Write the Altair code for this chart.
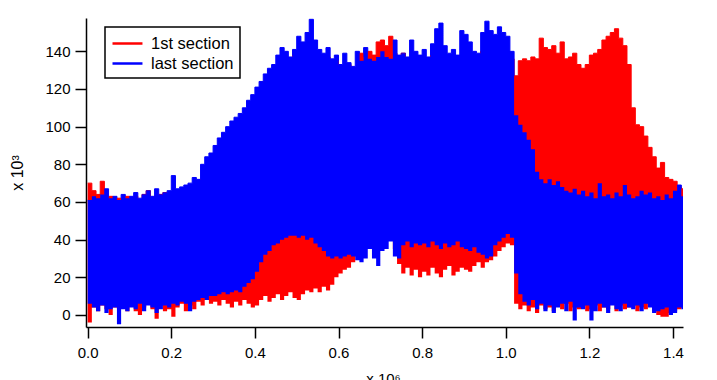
import altair as alt
import pandas as pd

# sample positions (x 10^6), one every 0.01
x_pos = [round(i * 0.01, 2) for i in range(144)]

# last section (blue): upper / lower envelope, x 10^3
blue_hi = [61, 63, 62, 64, 67, 62, 63, 61, 64, 62,
           63, 65, 62, 64, 66, 63, 67, 64, 65, 66,
           74, 67, 68, 69, 70, 73, 72, 80, 84, 86,
           90, 94, 97, 100, 103, 105, 107, 110, 114, 117,
           121, 124, 128, 131, 133, 138, 142, 140, 137, 141,
           148, 145, 150, 157, 146, 141, 139, 142, 136, 138,
           133, 139, 134, 132, 140, 135, 142, 136, 135, 137,
           140, 137, 136, 146, 138, 139, 137, 146, 140, 138,
           141, 137, 144, 152, 155, 143, 139, 141, 138, 151,
           149, 145, 140, 139, 150, 156, 151, 149, 153, 150,
           148, 140, 106, 101, 97, 93, 88, 76, 72, 70,
           72, 69, 71, 68, 66, 65, 67, 64, 66, 63,
           65, 62, 70, 63, 64, 62, 65, 63, 69, 64,
           62, 63, 66, 64, 65, 62, 63, 61, 64, 62,
           66, 69, 63, 64]
blue_lo = [6, 4, 2, 5, 1, 3, 4, -5, 3, 2,
           4, 3, 6, 2, 5, 4, 1, 3, 5, 4,
           6, 5, 7, 6, 2, 7, 8, 9, 8, 10,
           10, 11, 12, 11, 12, 13, 12, 15, 17, 19,
           23, 28, 32, 34, 37, 38, 40, 41, 42, 42,
           41, 42, 40, 41, 38, 36, 34, 31, 30, 31,
           30, 31, 32, 31, 29, 28, 30, 35, 30, 26,
           34, 35, 39, 31, 30, 37, 39, 36, 38, 37,
           38, 36, 39, 37, 35, 38, 36, 37, 39, 36,
           35, 34, 36, 33, 32, 30, 31, 37, 39, 41,
           43, 41, 22, 11, 7, 5, 8, 3, 6, 2,
           5, 1, 4, 6, 2, 7, -3, 4, 3, 5,
           -3, 2, 6, 4, 1, 5, 3, 2, 6, 4,
           3, 5, 2, 6, 4, 1, 2, 3, 4, 0,
           1, 4, 3, 5]

# 1st section (red): upper / lower envelope, x 10^3
red_hi = [70, 66, 64, 71, 62, 63, 60, 62, 61, 63,
          62, 63, 61, 64, 66, 62, 63, 64, 65, 63,
          64, 66, 65, 67, 66, 68, 70, 72, 77, 82,
          86, 90, 93, 96, 99, 101, 103, 105, 108, 112,
          116, 120, 124, 127, 129, 132, 135, 137, 135, 138,
          140, 141, 143, 145, 140, 138, 136, 137, 133, 135,
          130, 131, 133, 131, 130, 139, 137, 140, 138, 145,
          146, 143, 148, 139, 135, 139, 133, 136, 135, 134,
          136, 134, 138, 140, 138, 136, 135, 137, 134, 138,
          138, 139, 136, 137, 140, 141, 142, 140, 139, 141,
          138, 136, 127, 135, 136, 135, 137, 136, 147, 142,
          141, 143, 139, 145, 136, 137, 139, 133, 131, 133,
          138, 139, 141, 146, 148, 150, 152, 147, 143, 133,
          110, 101, 100, 95, 89, 84, 78, 81, 73, 72,
          71, 68, 67, 65]
red_lo = [-4, 4, 2, 5, 3, 0, 4, 3, 6, 2,
          5, 2, 0, 4, 6, 3, -2, 5, 2, 3,
          -1, 4, 6, 2, 5, 3, 7, 5, 8, 6,
          7, 5, 8, 6, 4, 7, 5, 8, 6, 4,
          5, 8, 10, 7, 9, 11, 8, 10, 12, 9,
          8, 11, 13, 12, 14, 12, 15, 13, 16, 20,
          22, 24, 25, 28, 36, 38, 40, 41, 40, 36,
          38, 40, 41, 35, 27, 22, 25, 21, 24, 20,
          23, 21, 25, 22, 20, 24, 26, 21, 23, 25,
          24, 23, 26, 28, 25, 28, 29, 31, 34, 36,
          38, 37, 6, 3, 5, 2, 4, 1, 5, 3,
          4, 2, 5, 3, 6, 2, 4, 3, 5, 2,
          3, 5, 2, 4, 3, 6, 2, 5, 3, 4,
          5, 2, 4, 3, 6, 2, 0, -1, -1, 1,
          2, 3, 4, 2]

series_names = ["1st section", "last section"]
series_colors = ["#ff0000", "#0000ff"]

df_red = pd.DataFrame({"x": x_pos, "lo": red_lo, "hi": red_hi, "series": series_names[0]})
df_blue = pd.DataFrame({"x": x_pos, "lo": blue_lo, "hi": blue_hi, "series": series_names[1]})
df_all = pd.concat([df_red, df_blue], ignore_index=True)

FONT = "Liberation Sans"

xscale = alt.Scale(domain=[-0.004, 1.424], nice=False, zero=False)
yscale = alt.Scale(domain=[-6.4, 157.7], nice=False, zero=False)

x_axis = alt.Axis(values=[0, 0.2, 0.4, 0.6, 0.8, 1.0, 1.2, 1.4], format=".1f",
                  title="x 10⁶", titleX=297, titleY=56, titleAlign="center",
                  titleBaseline="alphabetic", labelFlush=False, labelPadding=7)
y_axis = alt.Axis(values=[0, 20, 40, 60, 80, 100, 120, 140], title="x 10³",
                  titleX=-69, titleY=154.5, titleAlign="center", titleAngle=270,
                  titleBaseline="middle", titleFontSize=16, labelPadding=5)

legend_lines = alt.Chart(df_all).mark_line(interpolate="step-after", strokeWidth=1, clip=True).encode(
    x=alt.X("x:Q", scale=xscale, axis=x_axis),
    y=alt.Y("hi:Q", scale=yscale, axis=y_axis),
    stroke=alt.Stroke("series:N", scale=alt.Scale(domain=series_names, range=series_colors),
                      legend=alt.Legend(title=None, orient="none", legendX=19, legendY=9,
                                        symbolType="M-1,0H2.33", symbolSize=324,
                                        symbolStrokeWidth=2.5,
                                        labelFontSize=16.5, labelFont=FONT, labelColor="black",
                                        labelOffset=19, padding=6, rowPadding=1,
                                        fillColor="white", strokeColor="black")),
    detail="series:N",
)

red_area = alt.Chart(df_red).mark_area(interpolate="step-after", color="#ff0000", clip=True).encode(
    x=alt.X("x:Q", scale=xscale),
    y=alt.Y("lo:Q", scale=yscale),
    y2="hi:Q",
)
blue_area = alt.Chart(df_blue).mark_area(interpolate="step-after", color="#0000ff", clip=True).encode(
    x=alt.X("x:Q", scale=xscale),
    y=alt.Y("lo:Q", scale=yscale),
    y2="hi:Q",
)

chart = alt.layer(legend_lines, red_area, blue_area).properties(
    width=597, height=309,
    autosize="none",
    padding={"left": 78, "top": 10, "right": 20, "bottom": 54},
).configure_view(stroke=None).configure_axis(
    grid=False, domainColor="black", domainWidth=1.5, tickColor="black", tickWidth=1.5,
    tickSize=11, labelFontSize=15, labelFont=FONT, labelColor="black",
    titleFontSize=15, titleFont=FONT, titleFontWeight="normal", titleColor="black",
).configure_legend(strokeWidth=1.5)

chart.save("out.html", embed_options={"renderer": "svg", "actions": False})
